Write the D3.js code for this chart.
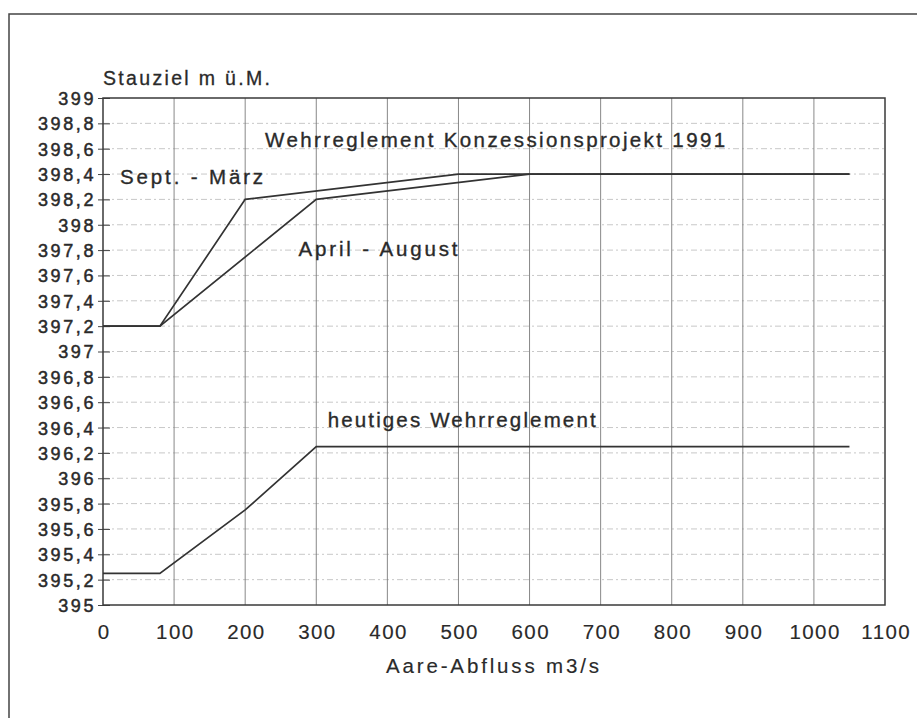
<!DOCTYPE html>
<html><head><meta charset="utf-8">
<script src="https://cdn.jsdelivr.net/npm/d3@7"></script>
<style>
html,body{margin:0;padding:0;background:#fff;}
svg{display:block;}
text{font-family:"Liberation Sans",Arial,Helvetica,sans-serif;fill:#2a2a2a;}
</style></head>
<body><svg id="c" width="917" height="718"></svg>
<script>
// Data
const xTicks = [0,100,200,300,400,500,600,700,800,900,1000,1100];
const yTicks = [395,395.2,395.4,395.6,395.8,396,396.2,396.4,396.6,396.8,397,397.2,397.4,397.6,397.8,398,398.2,398.4,398.6,398.8,399];
const septMaerzX = [0,80,200,500,1050];
const septMaerzY = [397.2,397.2,398.2,398.4,398.4];
const aprilAugustX = [0,80,300,600,1050];
const aprilAugustY = [397.2,397.2,398.2,398.4,398.4];
const heutigesX = [0,80,200,300,1050];
const heutigesY = [395.25,395.25,395.75,396.25,396.25];
const labelTexts = ["Wehrreglement Konzessionsprojekt 1991","Sept. - März","April - August","heutiges Wehrreglement"];
const labelX = [228,24,275,316];
const labelY = [398.61,398.32,397.753,396.404];
const labelLen = [460,143,159,268];
const yTitle = "Stauziel m ü.M.";
const xTitle = "Aare-Abfluss m3/s";

const svg = d3.select("#c");
const L=103,R=885,T=98,B=605;
const x = d3.scaleLinear().domain([0,1100]).range([L,R]);
const y = d3.scaleLinear().domain([395,399]).range([B,T]);

// outer frame
svg.append("rect").attr("x",9).attr("y",14).attr("width",940).attr("height",760)
  .attr("fill","none").attr("stroke","#444").attr("stroke-width",1.5);

// horizontal grid (dotted light)
svg.append("g").selectAll("line").data(yTicks.slice(1,-1)).join("line")
  .attr("x1",L).attr("x2",R).attr("y1",d=>y(d)).attr("y2",d=>y(d))
  .attr("stroke","#c8c8c8").attr("stroke-width",1).attr("stroke-dasharray","6,3,2,3");
// vertical grid
svg.append("g").selectAll("line").data(xTicks.slice(1,-1)).join("line")
  .attr("y1",T).attr("y2",B).attr("x1",d=>x(d)).attr("x2",d=>x(d))
  .attr("stroke","#7a7a7a").attr("stroke-width",0.9);

// y axis ticks & labels
const yAxis = d3.axisLeft(y).tickValues(yTicks).tickSize(5)
  .tickFormat(d=>d3.format(".1f")(d).replace(/\.0$/,"").replace(".",","));
const gy = svg.append("g").attr("transform",`translate(${L},0)`).call(yAxis);
gy.select(".domain").remove();
gy.selectAll(".tick line").attr("x2",-5).attr("x1",7).attr("stroke","#444");
gy.selectAll(".tick text").attr("x",-7).attr("dy","0.36em")
  .style("font-size","18px").style("letter-spacing","2.6px")
  .attr("fill","#2a2a2a").attr("stroke","#2a2a2a").attr("stroke-width",0.5);

// x axis labels
const xAxis = d3.axisBottom(x).tickValues(xTicks).tickSize(0).tickFormat(d3.format("d"));
const gx = svg.append("g").attr("transform",`translate(0,${B})`).call(xAxis);
gx.select(".domain").remove();
gx.selectAll(".tick text").attr("y",34).attr("dy",0)
  .style("font-size","20.5px").style("letter-spacing","1.4px")
  .attr("fill","#2a2a2a").attr("stroke","#2a2a2a").attr("stroke-width",0.15)
  .attr("transform","translate(0.7,0)");

// plot border
svg.append("rect").attr("x",L).attr("y",T).attr("width",R-L).attr("height",B-T)
  .attr("fill","none").attr("stroke","#3a3a3a").attr("stroke-width",1.5);

// lines
const line = d3.line().x(d=>x(d[0])).y(d=>y(d[1]));
const series = [
  d3.zip(septMaerzX,septMaerzY),
  d3.zip(aprilAugustX,aprilAugustY),
  d3.zip(heutigesX,heutigesY)
];
svg.append("g").selectAll("path").data(series).join("path")
  .attr("d",line).attr("fill","none").attr("stroke","#333").attr("stroke-width",1.7)
  .attr("stroke-linejoin","miter");

// annotations
svg.append("g").selectAll("text").data(labelTexts).join("text")
  .attr("x",(d,i)=>x(labelX[i])).attr("y",(d,i)=>y(labelY[i]))
  .attr("textLength",(d,i)=>labelLen[i]).attr("lengthAdjust","spacing")
  .style("font-size","20.5px").attr("stroke","#2a2a2a").attr("stroke-width",0.35)
  .text(d=>d);

// axis titles
svg.append("text").attr("x",L).attr("y",85).attr("textLength",167).attr("lengthAdjust","spacing")
  .style("font-size","19.5px").attr("stroke","#2a2a2a").attr("stroke-width",0.3).text(yTitle);
svg.append("text").attr("x",386).attr("y",673).attr("textLength",213).attr("lengthAdjust","spacing")
  .style("font-size","20.5px").attr("stroke","#2a2a2a").attr("stroke-width",0.15).text(xTitle);
</script></body></html>
